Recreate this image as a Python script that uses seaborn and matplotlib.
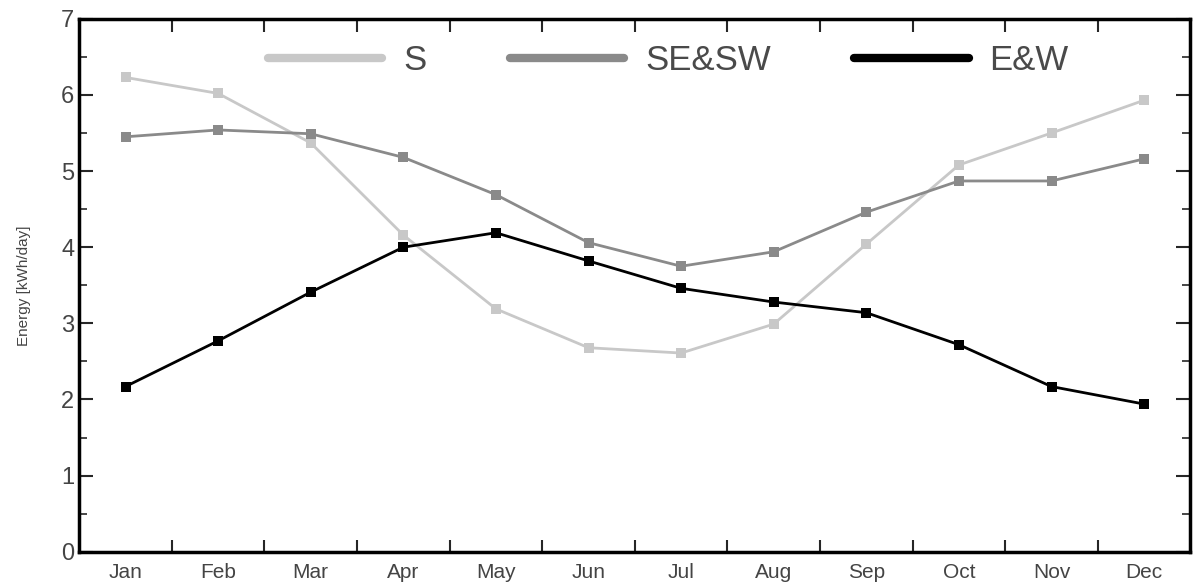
import pandas as pd
import numpy as np
import matplotlib
matplotlib.use('Agg')
import matplotlib.pyplot as plt
import seaborn as sns
from matplotlib.lines import Line2D
from matplotlib.ticker import MultipleLocator, FixedLocator

months = ['Jan', 'Feb', 'Mar', 'Apr', 'May', 'Jun', 'Jul', 'Aug', 'Sep', 'Oct', 'Nov', 'Dec']
s_vals = [6.23, 6.02, 5.37, 4.16, 3.19, 2.68, 2.61, 2.99, 4.04, 5.08, 5.50, 5.93]
sesw_vals = [5.45, 5.54, 5.49, 5.18, 4.69, 4.06, 3.75, 3.94, 4.46, 4.87, 4.87, 5.16]
ew_vals = [2.17, 2.77, 3.41, 4.00, 4.19, 3.82, 3.46, 3.28, 3.14, 2.72, 2.17, 1.94]
series_names = ['S', 'SE&SW', 'E&W']
colors = ['#c8c8c8', '#8a8a8a', '#000000']

df = pd.DataFrame({
    'idx': list(range(12)) * 3,
    'energy': s_vals + sesw_vals + ew_vals,
    'orient': [n for n in series_names for _ in months],
})

sns.set_style('white')
plt.rcParams['font.family'] = ['Liberation Sans', 'DejaVu Sans']

fig = plt.figure(figsize=(12, 5.87), dpi=100)
ax = fig.add_axes([0.066, 0.06, 0.926, 0.908])

sns.lineplot(data=df, x='idx', y='energy', hue='orient', hue_order=series_names,
             palette=dict(zip(series_names, colors)), marker='s', markersize=7,
             markeredgewidth=0, linewidth=2, ax=ax, legend=False)

ax.set_xlim(-0.5, 11.5)
ax.set_ylim(0, 7)
ax.set_xticks(range(12))
ax.set_xticklabels(months)
ax.xaxis.set_minor_locator(FixedLocator(np.arange(0.5, 11, 1)))
ax.yaxis.set_major_locator(MultipleLocator(1))
ax.yaxis.set_minor_locator(MultipleLocator(0.5))
ax.tick_params(axis='x', which='major', length=0, pad=8, labelsize=15, labelcolor='#444444')
ax.tick_params(axis='x', which='minor', direction='in', length=9, width=1.5, top=True, bottom=True)
ax.tick_params(axis='y', which='major', direction='in', length=10, width=1.5, left=True, right=True,
               labelsize=17, labelcolor='#444444')
ax.tick_params(axis='y', which='minor', direction='in', length=6, width=1.2, left=True, right=True)
for sp in ax.spines.values():
    sp.set_linewidth(2.5)
    sp.set_color('black')
    sp.set_visible(True)

ax.set_xlabel('')
ax.set_ylabel('Energy [kWh/day]', fontsize=11, color='#444444', labelpad=22)

handles = [Line2D([0], [0], color=c, lw=6) for c in colors]
leg = ax.legend(handles, series_names, loc='center', bbox_to_anchor=(0.53, 0.922), ncol=3,
                frameon=False, handlelength=3.3, handletextpad=0.6, columnspacing=2.4,
                fontsize=25)
for t in leg.get_texts():
    t.set_color('#4a4a4a')

plt.savefig('out.png', dpi=100)
